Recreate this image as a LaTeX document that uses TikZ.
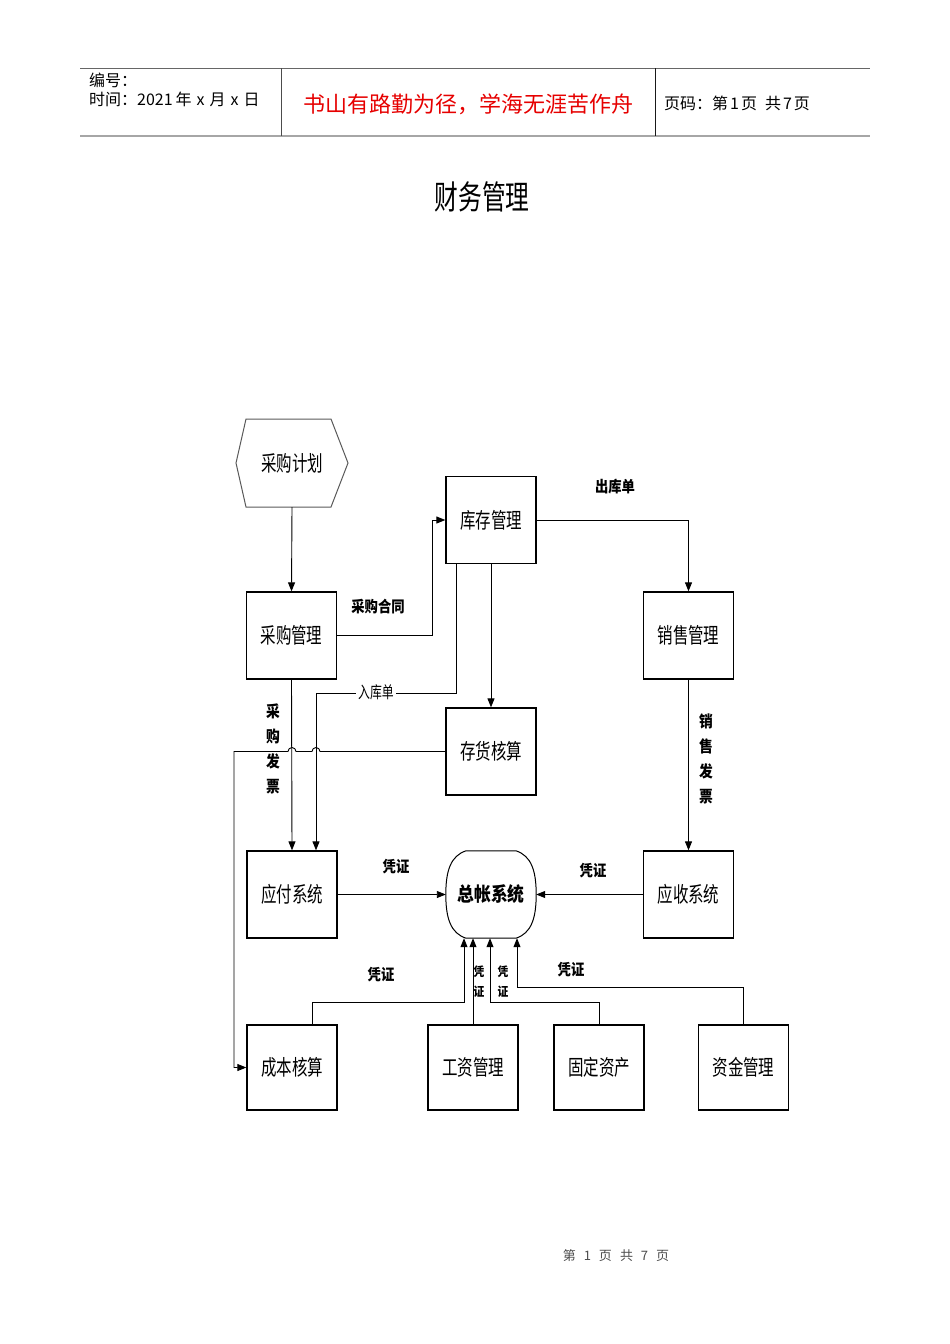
\documentclass[tikz,border=0pt]{standalone}
\usepackage{fontspec}
\usetikzlibrary{arrows.meta,calc}
\newfontfamily\cjk[FakeStretch=0.72]{Noto Sans CJK SC}
\newfontfamily\cjkb[FakeStretch=0.86]{Noto Sans CJK SC}
\newfontfamily\hd{Noto Sans CJK SC}
\definecolor{hdred}{HTML}{E60000}
\begin{document}
\begin{tikzpicture}[x=1pt,y=-1pt,
  box/.style={draw, line width=1.3pt, minimum width=90, minimum height=87, inner sep=0,
    font=\cjk\fontsize{21.5}{24}\selectfont},
  arr/.style={-{Triangle[length=9pt,width=7pt]}, line width=0.9pt},
  lbl/.style={font=\cjkb\bfseries\fontsize{15.5}{18}\selectfont, inner sep=1pt},
  vlbl/.style={font=\cjkb\bfseries\fontsize{16}{25}\selectfont, align=center, inner sep=0},
  svlbl/.style={font=\cjkb\bfseries\fontsize{12.5}{20}\selectfont, align=center, inner sep=0},
  hdtxt/.style={font=\hd\fontsize{16}{18}\selectfont, inner sep=0, anchor=west}]
\useasboundingbox (0,0) rectangle (950,1344);
% header
\draw[gray!80!black, line width=0.8pt] (80,68) -- (870,68);
\draw[gray!70, line width=1.6pt] (80,136) -- (870,136);
\draw[gray!60!black, line width=0.8pt] (281,68) -- (281,136);
\draw[gray!20!black, line width=0.8pt] (655,68) -- (655,136);
\node[hdtxt] (h1) at (89,80) {编号：};
\node[hdtxt] (h2) at (89,99) {时间：2021\hspace{3pt}年\hspace{5pt}x\hspace{5pt}月\hspace{5pt}x\hspace{5pt}日};
\node[font=\hd\fontsize{22}{24}\selectfont, text=hdred, inner sep=0] (h3) at (468,104) {书山有路勤为径，学海无涯苦作舟};
\node[hdtxt] (h4) at (664,103) {页码：第\hspace{2pt}1\hspace{2pt}页\hspace{8pt}共\hspace{2pt}7\hspace{2pt}页};
% title
\node[font=\cjk\fontsize{33}{36}\selectfont, inner sep=0] (title) at (482,197) {财务管理};
% nodes
\node[minimum width=112, minimum height=88, inner sep=0, font=\cjk\fontsize{21.5}{24}\selectfont] (plan) at (292,463) {采购计划};
\draw[gray!70!black, line width=1pt] ($(plan.center)+(-56,0)$) -- ($(plan.center)+(-46,-44)$) -- ($(plan.center)+(39,-44)$) -- ($(plan.center)+(56,0)$) -- ($(plan.center)+(39,44)$) -- ($(plan.center)+(-46,44)$) -- cycle;
\node[box] (buy) at (291.5,635.5) {采购管理};
\node[box] (inv) at (491,520) {库存管理};
\node[box] (sales) at (688.5,635.5) {销售管理};
\node[box] (stock) at (491,751.5) {存货核算};
\node[box] (ap) at (292,894.5) {应付系统};
\node[minimum width=90, minimum height=87, inner sep=0, font=\cjkb\bfseries\fontsize{19.5}{22}\selectfont] (gl) at (491,894.5) {总帐系统};
\draw[line width=1pt] ($(gl.north)+(-25,0)$) -- ($(gl.north)+(25,0)$)
  .. controls ($(gl.north east)+(-5,5)$) and ($(gl.east)+(0,-24)$) .. (gl.east)
  .. controls ($(gl.east)+(0,24)$) and ($(gl.south east)+(-5,-5)$) .. ($(gl.south)+(25,0)$)
  -- ($(gl.south)+(-25,0)$)
  .. controls ($(gl.south west)+(5,-5)$) and ($(gl.west)+(0,24)$) .. (gl.west)
  .. controls ($(gl.west)+(0,-24)$) and ($(gl.north west)+(5,5)$) .. cycle;
\node[box] (ar) at (688.5,894.5) {应收系统};
\node[box, minimum height=85] (cost) at (292,1067.5) {成本核算};
\node[box, minimum height=85] (wage) at (473,1067.5) {工资管理};
\node[box, minimum height=85] (asset) at (599,1067.5) {固定资产};
\node[box, minimum height=85] (fund) at (743.5,1067.5) {资金管理};
% connectors
\draw[arr] (plan.south) -- (buy.north);
\draw[arr] (buy.east) -- ++(95,0) |- (inv.west);
\draw[arr] (inv.east) -| (sales.north);
\draw[arr] (inv.south) -- (stock.north);
\draw[arr] ([xshift=-35]inv.south) -- ++(0,129) -| ([xshift=24]ap.north);
\draw[arr] (buy.south) -- (ap.north);
\draw[arr] (stock.west) -- (320,751.5) arc[start angle=0,end angle=180,radius=4pt]
  -- (296,751.5) arc[start angle=0,end angle=180,radius=4pt]
  -- (234,751.5) |- (cost.west);
\draw[arr] (sales.south) -- (ar.north);
\draw[arr] (ap.east) -- (gl.west);
\draw[arr] (ar.west) -- (gl.east);
\draw[arr] ([xshift=20]cost.north) -- ++(0,-22) -| ([xshift=-27]gl.south);
\draw[arr] (wage.north) -- (wage.north |- gl.south);
\draw[arr] (asset.north) -- ++(0,-22) -| ([xshift=-1]gl.south);
\draw[arr] (fund.north) -- ++(0,-37) -| ([xshift=26]gl.south);
% labels
\node[lbl] (l1) at (378,607) {采购合同};
\node[lbl] (l2) at (615,487) {出库单};
\node[font=\cjk\fontsize{16.5}{18}\selectfont, fill=white, inner sep=2pt] (l3) at (376,692) {入库单};
\node[vlbl] (l4) at (273,749) {采\\购\\发\\票};
\node[vlbl] (l5) at (706,759) {销\\售\\发\\票};
\node[lbl] (l6) at (396,867) {凭证};
\node[lbl] (l7) at (593,871) {凭证};
\node[lbl] (l8) at (381,975) {凭证};
\node[lbl] (l9) at (571,970) {凭证};
\node[svlbl] (l10) at (479,982) {凭\\证};
\node[svlbl] (l11) at (503,982) {凭\\证};
% footer
\node[font=\hd\fontsize{13}{16}\selectfont, text=gray!60!black] (foot) at (616,1256) {第\hspace{8pt}1\hspace{8pt}页\hspace{8pt}共\hspace{8pt}7\hspace{8pt}页};
\end{tikzpicture}
\end{document}
